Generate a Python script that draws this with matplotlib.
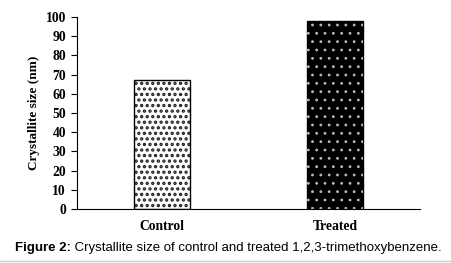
import matplotlib.pyplot as plt
import numpy as np

categories = ["Control", "Treated"]
sizes = [67, 98]

fig = plt.figure(figsize=(4.52, 2.63), dpi=100)
ax = fig.add_axes([77 / 452, 1 - 209 / 263, 343 / 452, 192 / 263])

x = np.arange(len(categories))
w = 0.32
plt.rcParams["hatch.linewidth"] = 1.6
# control: white with dark dots
ax.bar(x[0], sizes[0], w, color="white", edgecolor="#222222", hatch="...", lw=0.0)
ax.bar(x[0], sizes[0], w, color="none", edgecolor="black", lw=1.0)
# treated: black with white dotted grid
plt.rcParams["hatch.linewidth"] = 0.8
ax.bar(x[1], sizes[1], w, color="black", edgecolor="black", lw=1.0)
ax.bar(x[1], sizes[1], w, color="none", edgecolor="#bbbbbb", hatch="..", lw=0.0)

ax.set_xlim(-0.49, 1.49)
ax.set_ylim(0, 100)
ax.set_yticks(range(0, 101, 10))
ax.set_xticks(x)
ax.set_xticklabels(categories)
ax.tick_params(axis="x", length=0, pad=8)
ax.tick_params(axis="y", length=4, width=0.8, pad=4)
for lab in ax.get_xticklabels() + ax.get_yticklabels():
    lab.set_family("Liberation Serif")
    lab.set_fontweight("bold")
    lab.set_fontsize(9.8)
ax.set_ylabel("Crystallite size (nm)", family="Liberation Serif", fontweight="bold", fontsize=9.5, labelpad=4)
ax.spines["top"].set_visible(False)
ax.spines["right"].set_visible(False)

t1 = fig.text(15 / 452, 1 - 248 / 263, "Figure 2:", ha="left", va="center",
              fontsize=9.5, fontweight="bold", family="Liberation Sans")
ax.annotate(" Crystallite size of control and treated 1,2,3-trimethoxybenzene.",
            xy=(1, 0.5), xycoords=t1, ha="left", va="center",
            fontsize=9.5, family="Liberation Sans", annotation_clip=False)
fig.lines.append(plt.Line2D([0, 1], [1 - 261 / 263] * 2, color="#cccccc", lw=1, transform=fig.transFigure))

fig.savefig("out.png", dpi=100)
